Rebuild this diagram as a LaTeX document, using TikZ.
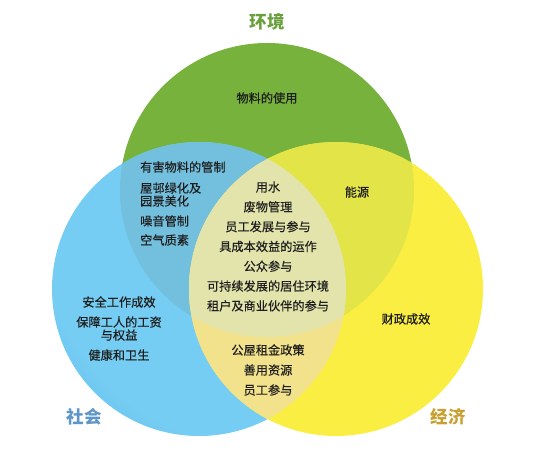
\documentclass[tikz,border=0pt]{standalone}
\usepackage{fontspec}
\setmainfont{Noto Sans CJK SC}
\newfontfamily\cjk[FakeBold=0.35]{Noto Sans CJK SC}
\newfontfamily\cjkttl{Noto Sans CJK SC}
\usetikzlibrary{positioning}
\definecolor{envGreen}  {RGB}{118, 178,  60}
\definecolor{envDark}   {RGB}{ 95, 155,  45}
\definecolor{socLight}  {RGB}{118, 205, 243}
\definecolor{socDark}   {RGB}{ 38, 152, 216}
\definecolor{ecoYellow} {RGB}{250, 238,  66}
\definecolor{ecoDark}   {RGB}{222, 204,  42}
\definecolor{envSoc}    {RGB}{115, 192, 222}
\definecolor{envEco}    {RGB}{226, 228,  72}
\definecolor{socEco}    {RGB}{242, 226, 140}
\definecolor{allThree}  {RGB}{226, 228, 172}
\definecolor{txtGray}   {RGB}{ 30,  30,  30}
\definecolor{envTitle}  {RGB}{105, 160,  60}
\definecolor{socTitle}  {RGB}{ 95, 150, 200}
\definecolor{ecoTitle}  {RGB}{200, 160,  50}
\pgfdeclareradialshading{socShade}{\pgfpoint{25bp}{25bp}}{%
  color(0bp)=(socLight); color(40bp)=(socLight); color(62bp)=(socDark); color(80bp)=(socDark)}
\pgfdeclareradialshading{envShade}{\pgfpoint{20bp}{10bp}}{%
  color(0bp)=(envGreen); color(45bp)=(envGreen); color(66bp)=(envDark); color(80bp)=(envDark)}
\pgfdeclareradialshading{ecoShade}{\pgfpoint{-10bp}{25bp}}{%
  color(0bp)=(ecoYellow); color(48bp)=(ecoYellow); color(66bp)=(ecoDark); color(80bp)=(ecoDark)}
\tikzset{
  txt/.style   = {font=\cjk\fontsize{12.2}{13}\selectfont, text=txtGray,
                  align=center, inner sep=1pt},
  ttl/.style   = {font=\cjkttl\bfseries\fontsize{17.5}{20}\selectfont, text=#1,
                  inner sep=1pt},
}
\def\envCirc{(267,260) circle (147pt)}
\def\socCirc{(199,161) circle (147pt)}
\def\ecoCirc{(336,161) circle (147pt)}

\begin{document}
\begin{tikzpicture}[x=1pt, y=1pt]
\useasboundingbox (0,0) rectangle (540,450);

% ---- Circles ----------------------------------------------------------------
\shade[shading=envShade] \envCirc;
\shade[shading=socShade] \socCirc;
\shade[shading=ecoShade] \ecoCirc;

% ---- Overlaps ---------------------------------------------------------------
\begin{scope}
  \clip \envCirc;
  \fill[envSoc] \socCirc;
  \fill[envEco] \ecoCirc;
\end{scope}
\begin{scope}
  \clip \socCirc;
  \fill[socEco] \ecoCirc;
\end{scope}
\begin{scope}
  \clip \envCirc;
  \clip \socCirc;
  \fill[allThree] \ecoCirc;
\end{scope}

% ---- Titles -----------------------------------------------------------------
\node[ttl=envTitle] (env) at (267,428) {环境};
\node[ttl=socTitle] (soc) at (84,33)   {社会};
\node[ttl=ecoTitle] (eco) at (448,33)  {经济};

% ---- Single sets ------------------------------------------------------------
\node[txt] (material) at (267,352) {物料的使用};
\node[txt] (safety) at (119,121.5) {%
  安全工作成效\\[7pt]保障工人的工资\\与权益\\[7pt]健康和卫生};
\node[txt] (finance) at (406,131) {财政成效};

% ---- Pairs ------------------------------------------------------------------
\node[txt, align=left, anchor=west] (hazard) at (139,246.5) {%
  有害物料的管制\\[8pt]屋邨绿化及\\园景美化\\[7pt]噪音管制\\[6pt]空气质素};
\node[txt] (energy) at (357,258) {能源};
\node[txt] (rent) at (268,80) {%
  公屋租金政策\\[7pt]善用资源\\[7pt]员工参与};

% ---- All three --------------------------------------------------------------
\node[txt] (core) at (268,203.5) {%
  用水\\[6.8pt]废物管理\\[6.8pt]员工发展与参与\\[6.8pt]具成本效益的运作\\[6.8pt]%
  公众参与\\[6.8pt]可持续发展的居住环境\\[6.8pt]租户及商业伙伴的参与};

\end{tikzpicture}
\end{document}
